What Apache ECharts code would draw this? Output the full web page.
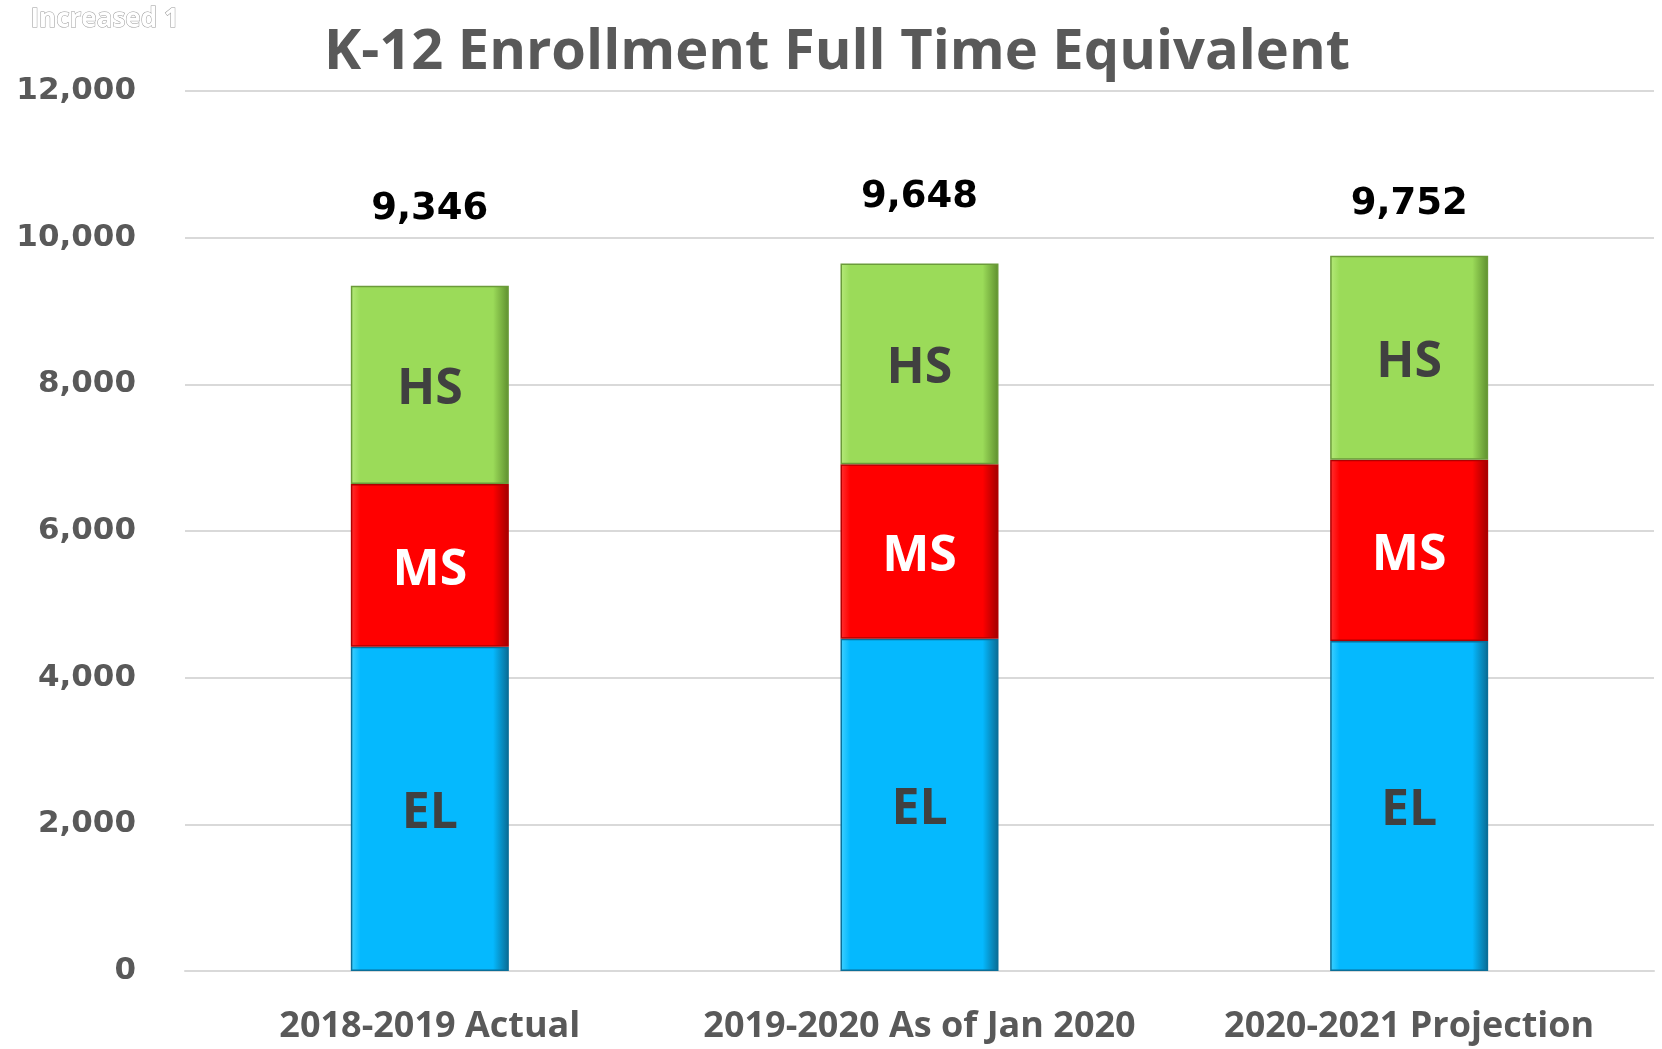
<!DOCTYPE html>
<html><head><meta charset="utf-8">
<script src="https://cdn.jsdelivr.net/npm/echarts@6/dist/echarts.min.js"></script>
<style>html,body{margin:0;padding:0;background:#fff}#c{width:1662px;height:1049px}</style>
</head><body><div id="c"></div>
<script>
const categories = ['2018-2019 Actual', '2019-2020 As of Jan 2020', '2020-2021 Projection'];
const elValues = [4420, 4530, 4500];
const msValues = [2220, 2380, 2470];
const hsValues = [2706, 2738, 2782];
const totals = [9346, 9648, 9752];
const yTicks = [0, 2000, 4000, 6000, 8000, 10000, 12000];

// label distances above bar tops (style only)
const totalLabelGap = [58, 48, 33];

const chart = echarts.init(document.getElementById('c'));
const segLabel = (txt, color) => ({
  show: true, position: 'inside', formatter: txt, color: color, offset: [0, 5],
  fontFamily: "'Open Sans', sans-serif", fontWeight: 'bold', fontSize: 50
});
const bevel = (c1, c2, c3, border) => ({
  color: new echarts.graphic.LinearGradient(0, 0, 1, 0, [
    {offset: 0, color: c2}, {offset: 0.06, color: c1}, {offset: 0.9, color: c1}, {offset: 1, color: c3}
  ]),
  borderColor: border, borderWidth: 1.5
});
chart.setOption({
  animation: false,
  backgroundColor: '#fff',
  title: {
    text: 'K-12 Enrollment Full Time Equivalent',
    left: 832, top: 20, textAlign: 'center',
    textStyle: {color: '#595959', fontSize: 56, fontWeight: 'bold', fontFamily: "'Open Sans', sans-serif"}
  },
  graphic: [{
    type: 'text', left: 30, top: 6,
    style: {text: 'Increased 1', fill: '#fff', stroke: '#999', lineWidth: 1,
      font: 'bold 26px "Open Sans", sans-serif'}
  }],
  grid: {left: 185, right: 8, top: 91, bottom: 78},
  xAxis: {
    type: 'category', data: categories,
    axisLine: {lineStyle: {color: '#d9d9d9', width: 2}},
    axisTick: {show: false},
    axisLabel: {color: '#595959', fontSize: 36, fontWeight: 'bold', margin: 38, interval: 0, hideOverlap: false,
      fontFamily: "'Open Sans', sans-serif"}
  },
  yAxis: {
    type: 'value', min: yTicks[0], max: yTicks[yTicks.length - 1], interval: 2000,
    axisLine: {show: false}, axisTick: {show: false},
    splitLine: {lineStyle: {color: '#d9d9d9', width: 2}},
    axisLabel: {color: '#595959', fontSize: 31, fontWeight: 'bold', margin: 49,
      fontFamily: "'DejaVu Sans', sans-serif",
      formatter: v => v.toLocaleString('en-US')}
  },
  series: [
    {name: 'EL', type: 'bar', stack: 't', barWidth: 158, data: elValues,
      itemStyle: bevel('#05B9FE', '#3FD0FF', '#0A6A92', '#0A6F99'), label: segLabel('EL', '#404040')},
    {name: 'MS', type: 'bar', stack: 't', data: msValues,
      itemStyle: bevel('#FF0000', '#FF3030', '#A00000', '#B00000'), label: segLabel('MS', '#ffffff')},
    {name: 'HS', type: 'bar', stack: 't', data: hsValues,
      itemStyle: bevel('#9BDB59', '#B5EA7A', '#5E8F2E', '#6B9B3A'),
      label: segLabel('HS', '#404040')},
    {name: 'Total', type: 'bar', stack: 't',
      data: totals.map((t, i) => ({value: 0, label: {distance: totalLabelGap[i]}})),
      itemStyle: {color: 'transparent'},
      label: {show: true, position: 'top', color: '#000',
        fontFamily: "'DejaVu Sans', sans-serif", fontWeight: 'bold', fontSize: 37,
        formatter: p => totals[p.dataIndex].toLocaleString('en-US')}}
  ]
});
</script></body></html>
